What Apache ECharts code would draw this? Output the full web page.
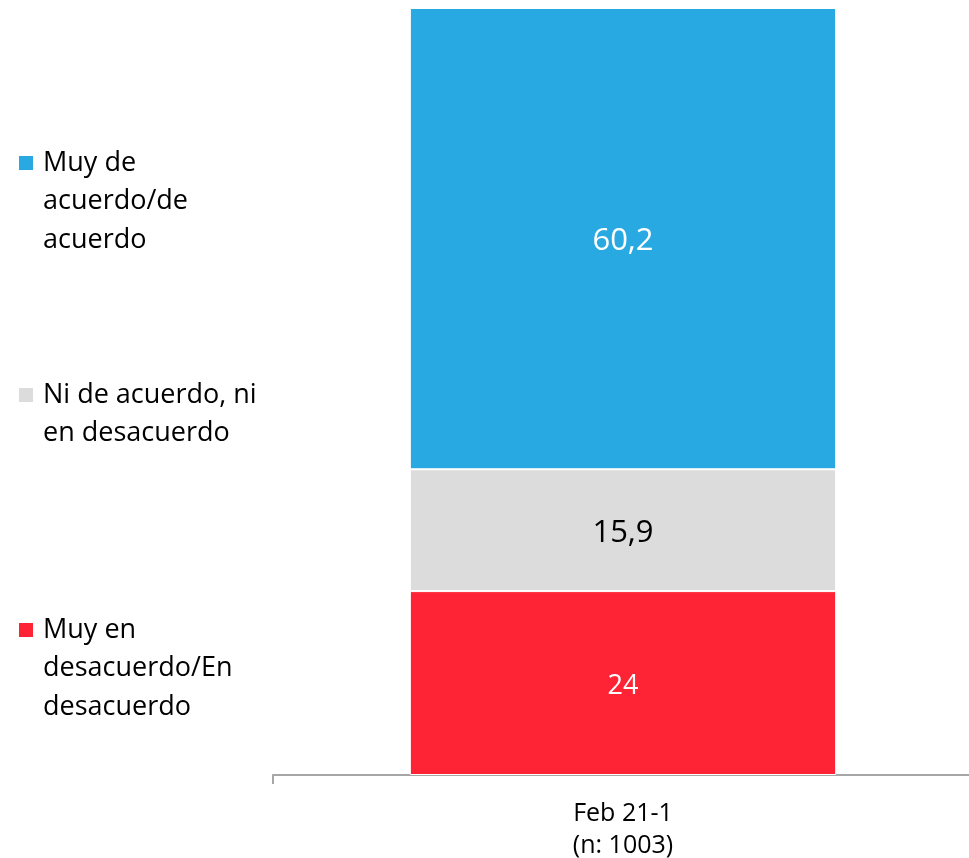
<!DOCTYPE html>
<html>
<head>
<meta charset="utf-8">
<script src="https://cdn.jsdelivr.net/npm/echarts@6/dist/echarts.min.js"></script>
<style>
  html, body { margin: 0; padding: 0; background: #fff; }
  #chart { width: 969px; height: 858px; }
</style>
</head>
<body>
<div id="chart"></div>
<script>
// Survey wave and the three answer groups (percent)
const categories = ['Feb 21-1\n(n: 1003)'];
const seriesNames = [
  'Muy en desacuerdo/En desacuerdo',
  'Ni de acuerdo, ni en desacuerdo',
  'Muy de acuerdo/de acuerdo'
];
const desacuerdo = [24];
const neutral = [15.9];
const acuerdo = [60.2];

// Legend text broken over lines as in the side panel
const legendLines = {
  'Muy de acuerdo/de acuerdo': ['Muy de', 'acuerdo/de', 'acuerdo'],
  'Ni de acuerdo, ni en desacuerdo': ['Ni de acuerdo, ni', 'en desacuerdo'],
  'Muy en desacuerdo/En desacuerdo': ['Muy en', 'desacuerdo/En', 'desacuerdo']
};

const FONT = '"Open Sans", "Noto Sans", sans-serif';
const LINE_H = 38.5;

function fmt(v) { return String(v).replace('.', ','); }

// The legend centres its text block on the marker; leading blank lines
// push the first text line down so the marker sits beside it.
function legendFor(name, color, centerY) {
  const lines = legendLines[name];
  const blanks = lines.length - 1;
  const total = lines.length + blanks;
  const text = new Array(blanks).fill(' ').concat(lines).join('\n');
  return {
    data: [{ name: name, itemStyle: { color: color } }],
    left: 17,
    top: centerY - total * LINE_H / 2,
    padding: 0,
    orient: 'vertical',
    icon: 'rect',
    itemWidth: 16,
    itemHeight: 16,
    selectedMode: false,
    formatter: function () { return text; },
    textStyle: {
      fontFamily: FONT,
      fontSize: 27,
      color: '#000',
      lineHeight: LINE_H,
      padding: [0, 0, 0, 4]
    }
  };
}

const colors = ['#FF2435', '#DCDCDC', '#29A9E1'];
const values = [desacuerdo, neutral, acuerdo];
const labelStyles = [
  { color: '#fff', fontSize: 27 },
  { color: '#000', fontSize: 31 },
  { color: '#fff', fontSize: 31 }
];

const chart = echarts.init(document.getElementById('chart'), null, { renderer: 'canvas' });
chart.setOption({
  animation: false,
  backgroundColor: '#fff',
  legend: [
    legendFor(seriesNames[2], colors[2], 163),
    legendFor(seriesNames[1], colors[1], 395),
    legendFor(seriesNames[0], colors[0], 630)
  ],
  grid: { left: 273, right: -4, top: 8, bottom: 83, outerBoundsMode: 'none', containLabel: false },
  xAxis: {
    type: 'category',
    data: categories,
    axisLine: { lineStyle: { color: '#A6A6A6', width: 2 } },
    axisTick: { show: true, length: 9, lineStyle: { color: '#A6A6A6', width: 2 } },
    axisLabel: {
      fontFamily: FONT,
      fontSize: 25,
      color: '#000',
      lineHeight: 32,
      margin: 23
    }
  },
  yAxis: {
    type: 'value',
    min: 0,
    max: 100.1,
    show: false,
    splitLine: { show: false }
  },
  series: seriesNames.map(function (name, i) {
    return {
      name: name,
      type: 'bar',
      stack: 'total',
      barWidth: '60.9%',
      data: values[i],
      itemStyle: { color: colors[i], borderColor: '#fff', borderWidth: 1 },
      label: {
        show: true,
        position: 'inside',
        offset: [0, 3],
        fontFamily: FONT,
        fontSize: labelStyles[i].fontSize,
        color: labelStyles[i].color,
        formatter: function (p) { return fmt(p.value); }
      }
    };
  })
});
</script>
</body>
</html>
